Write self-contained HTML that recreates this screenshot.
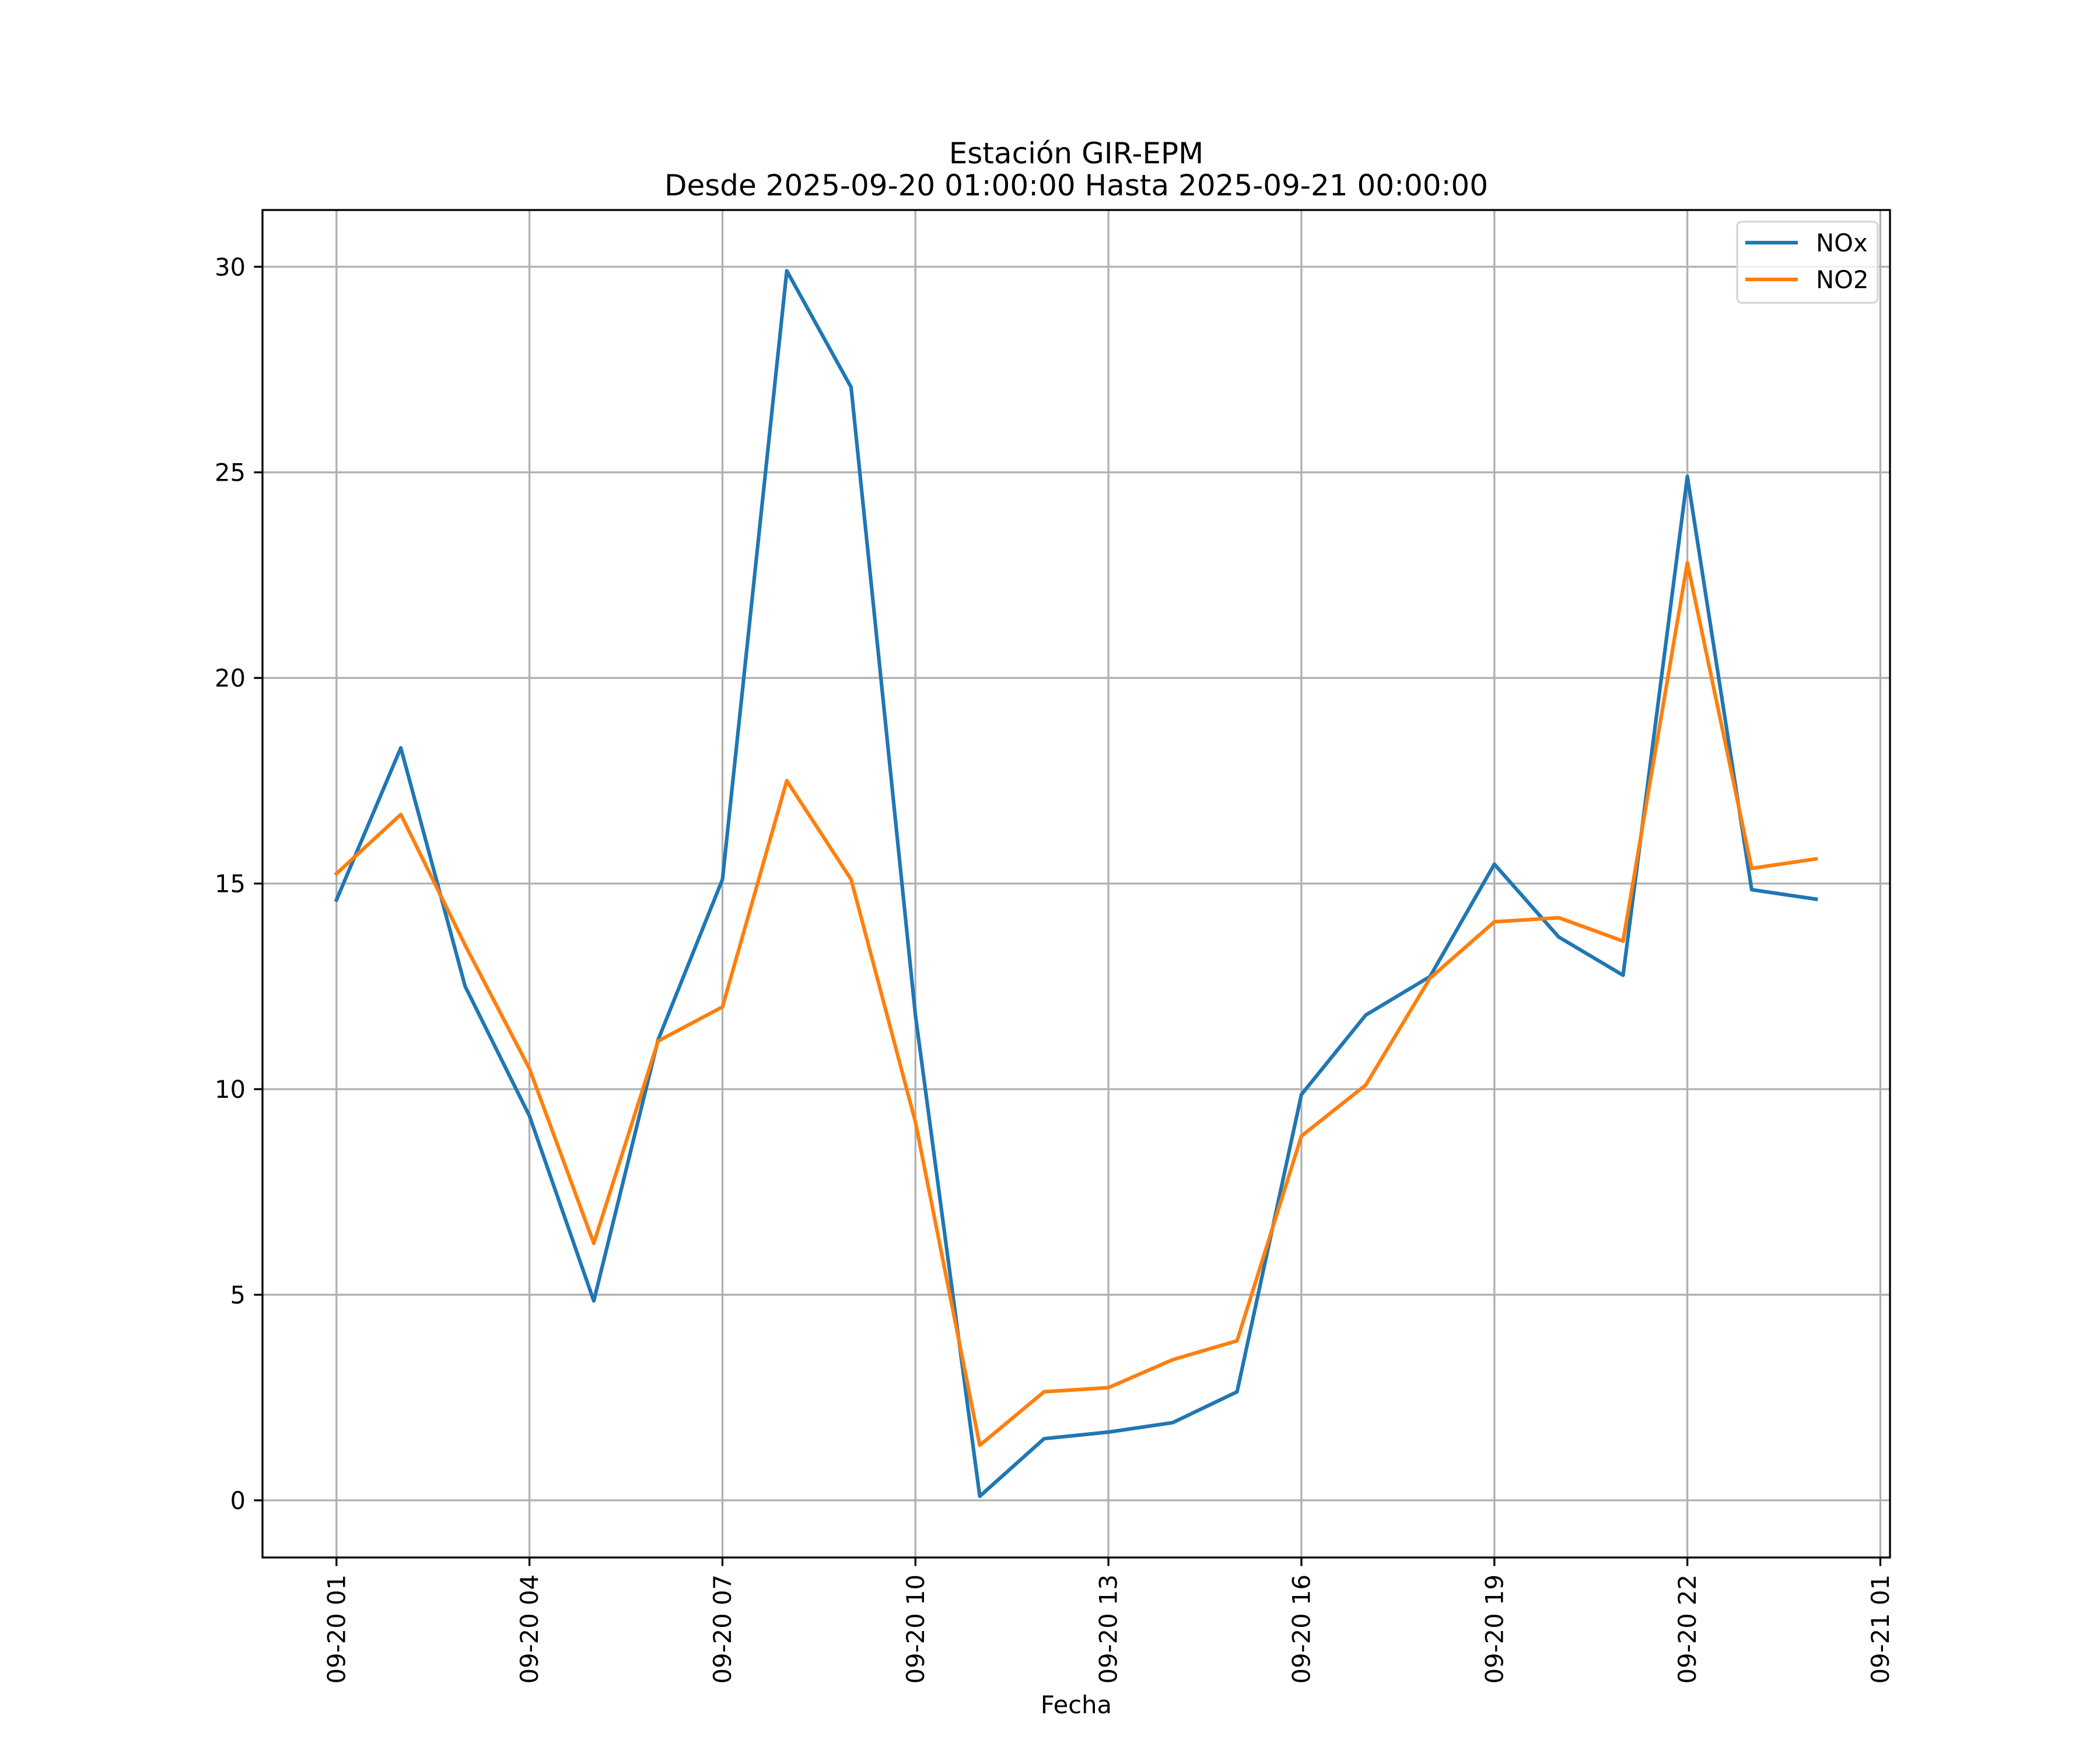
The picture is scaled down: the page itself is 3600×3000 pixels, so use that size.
<!DOCTYPE html>
<html><head><meta charset="utf-8"><style>
html,body{margin:0;padding:0;background:#fff}
svg{display:block}
text{font-family:"DejaVu Sans","Liberation Sans",sans-serif;fill:#000}
</style></head><body>
<svg id="chart" width="3600" height="3000" viewBox="0 0 3600 3000" xmlns="http://www.w3.org/2000/svg">
<rect width="3600" height="3000" fill="#fff"/>
<text x="1845" y="280" font-size="50" text-anchor="middle">Estación GIR-EPM</text>
<text x="1845" y="335" font-size="50" text-anchor="middle">Desde 2025-09-20 01:00:00 Hasta 2025-09-21 00:00:00</text>
<g id="grid"></g>
<g id="series"></g>
<rect x="450" y="360" width="2790" height="2310" fill="none" stroke="#000" stroke-width="3.3"/>
<g id="ticks"></g>
<text x="1845" y="2937" font-size="41.7" text-anchor="middle">Fecha</text>
<g>
<rect x="2978" y="380" width="241" height="139" rx="8" fill="#fff" fill-opacity="0.8" stroke="#d6d6d6" stroke-width="3.3"/>
<line x1="2992" y1="416" x2="3082" y2="416" stroke="#1f77b4" stroke-width="6.25"/>
<text x="3113" y="431" font-size="41.7">NOx</text>
<line x1="2992" y1="479" x2="3082" y2="479" stroke="#ff7f0e" stroke-width="6.25"/>
<text x="3113" y="494" font-size="41.7">NO2</text>
</g>
</svg>
<script>
const hours = [1,2,3,4,5,6,7,8,9,10,11,12,13,14,15,16,17,18,19,20,21,22,23,24];
const noxValues = [14.6,18.3,12.5,9.35,4.85,11.2,15.1,29.9,27.07,11.8,0.1,1.5,1.66,1.89,2.64,9.87,11.8,12.74,15.47,13.7,12.77,24.9,14.85,14.62];
const no2Values = [15.24,16.68,13.5,10.5,6.25,11.17,12.0,17.5,15.1,9.2,1.34,2.64,2.74,3.42,3.88,8.86,10.1,12.7,14.07,14.17,13.6,22.8,15.37,15.6];
const xTickHours = [1,4,7,10,13,16,19,22,25];
const xTickLabels = ["09-20 01","09-20 04","09-20 07","09-20 10","09-20 13","09-20 16","09-20 19","09-20 22","09-21 01"];
const yTicks = [0,5,10,15,20,25,30];

const NS = "http://www.w3.org/2000/svg";
const L=450,R=3240,T=360,B=2670;
const xMin=1-1.15, xMax=24+1.15;
const yMin=-1.39, yMax=31.38;
function xs(h){return L+(h-xMin)/(xMax-xMin)*(R-L);}
function ys(v){return B-(v-yMin)/(yMax-yMin)*(B-T);}
function mk(tag,attrs,parent){const e=document.createElementNS(NS,tag);for(const k in attrs)e.setAttribute(k,attrs[k]);parent.appendChild(e);return e;}
const grid=document.getElementById('grid'), ticks=document.getElementById('ticks'), series=document.getElementById('series');

xTickHours.forEach((h,i)=>{
  const x=xs(h);
  const g=mk('line',{x1:x,y1:T,x2:x,y2:B,stroke:'#b0b0b0','stroke-width':3.3},grid);
  
  
  const t=mk('line',{x1:x,y1:B,x2:x,y2:B+14.6,stroke:'#000','stroke-width':3.3},ticks);
  
  
  const tx=mk('text',{x:0,y:0,'font-size':41.7,'text-anchor':'end','dominant-baseline':'central',transform:`translate(${x},${B+29})rotate(-90)`},ticks);
  tx.textContent=xTickLabels[i];
  
  
});
yTicks.forEach(v=>{
  const y=ys(v);
  const g=mk('line',{x1:L,y1:y,x2:R,y2:y,stroke:'#b0b0b0','stroke-width':3.3},grid);
  
  
  const t=mk('line',{x1:L-14.6,y1:y,x2:L,y2:y,stroke:'#000','stroke-width':3.3},ticks);
  
  
  const tx=mk('text',{x:L-29,y:y+15,'font-size':41.7,'text-anchor':'end'},ticks);
  tx.textContent=String(v);
  
  
});
function drawLine(vals,color,name){
  const pts=vals.map((v,i)=>xs(hours[i]).toFixed(1)+','+ys(v).toFixed(1)).join(' ');
  const p=mk('polyline',{points:pts,fill:'none',stroke:color,'stroke-width':6.25,'stroke-linejoin':'round','stroke-linecap':'square'},series);
  
  
}
drawLine(noxValues,'#1f77b4','nox-line');
drawLine(no2Values,'#ff7f0e','no2-line');
</script>
</body></html>
